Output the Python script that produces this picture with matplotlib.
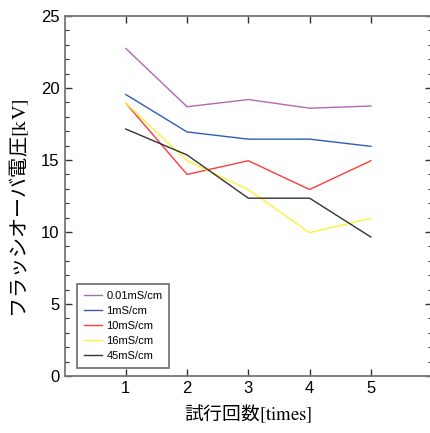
import matplotlib
matplotlib.use("Agg")
import matplotlib.pyplot as plt
from matplotlib.ticker import MultipleLocator

plt.rcParams["font.family"] = ["Liberation Sans", "Noto Sans CJK JP"]
plt.rcParams["mathtext.fontset"] = "stix"

trials = [1, 2, 3, 4, 5]
labels = ["0.01mS/cm", "1mS/cm", "10mS/cm", "16mS/cm", "45mS/cm"]
colors = ["#b467b4", "#2e5cb8", "#ff3b3b", "#fff03a", "#333333"]
v_001 = [22.75, 18.7, 19.2, 18.6, 18.75]
v_1 = [19.55, 16.95, 16.45, 16.45, 15.95]
v_10 = [18.95, 14.0, 14.95, 12.95, 14.95]
v_16 = [18.95, 14.95, 12.95, 9.95, 10.95]
v_45 = [17.15, 15.35, 12.35, 12.35, 9.65]
series = [v_001, v_1, v_10, v_16, v_45]

fig = plt.figure(figsize=(4.31, 4.33), dpi=100)
ax = fig.add_axes([0.1497, 0.1316, 0.8530, 0.8314])

for vals, c, lab in zip(series, colors, labels):
    ax.plot(trials, vals, color=c, lw=1.0, label=lab)

ax.set_xlim(0, 6)
ax.set_ylim(0, 25)
ax.set_xticks(trials)
ax.yaxis.set_major_locator(MultipleLocator(5))
ax.yaxis.set_minor_locator(MultipleLocator(1))
ax.tick_params(which="both", direction="in", top=True, right=True,
               labelsize=12, color="#333333")
ax.tick_params(which="major", length=5, width=1.0)
ax.tick_params(which="minor", length=3, width=0.8)
for sp in ax.spines.values():
    sp.set_color("#777777")
    sp.set_linewidth(1.3)

ax.set_xlabel("試行回数$\\mathrm{[times]}$", family=["Noto Sans CJK JP"],
              fontsize=13.5, labelpad=5)
ax.set_ylabel("フラッシオーバ電圧$\\mathrm{[kV]}$", family=["Noto Sans CJK JP"],
              fontsize=14.5)
ax.yaxis.set_label_coords(-0.09, 0.465)

leg = ax.legend(loc="lower left", bbox_to_anchor=(0.02, 0.008), fontsize=8,
                handlelength=1.6, handletextpad=0.4, frameon=True,
                fancybox=False, borderpad=0.6, labelspacing=0.45)
leg.get_frame().set_edgecolor("#555555")
leg.get_frame().set_linewidth(1.3)

fig.savefig("out.png", dpi=100)
